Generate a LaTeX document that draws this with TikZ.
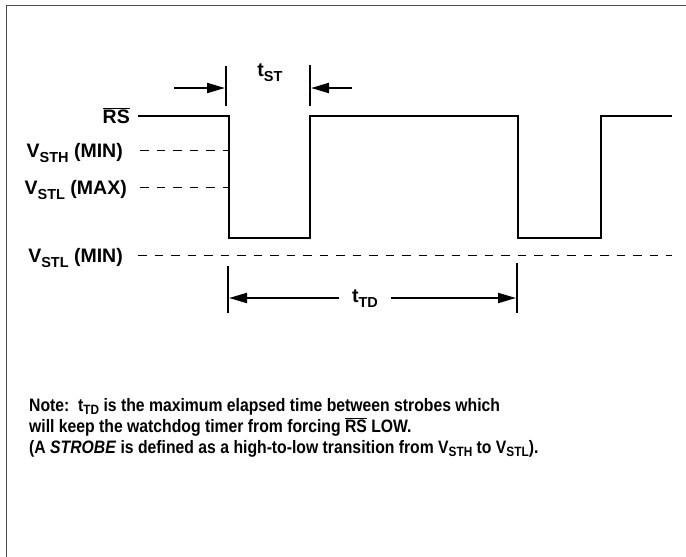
\documentclass[tikz,border=0pt]{standalone}
\usepackage{fontspec}
\setmainfont{Liberation Sans}
\newfontfamily\notefont{Liberation Sans}[FakeStretch=0.875]
\usetikzlibrary{arrows.meta}
\newcommand\dn[1]{\raisebox{-0.26em}{\fontsize{14.5}{14.5}\selectfont #1}}
\newcommand\ndn[1]{\raisebox{-0.22em}{\fontsize{13.5}{13.5}\selectfont #1}}
\newcommand\ovl[1]{$\overline{\hbox{#1}}$}
\begin{document}
\begin{tikzpicture}[x=1pt,y=-1pt,
  sig/.style={line width=2pt, line join=miter},
  thr/.style={line width=0.9pt, dash pattern=on 8.5pt off 8pt},
  tickln/.style={line width=2pt},
  dimarrow/.style={line width=2pt, -{Triangle[length=18pt,width=10pt]}},
  lab/.style={font=\fontsize{19.5}{22}\selectfont\bfseries, inner sep=0pt, anchor=base east},
  tlab/.style={font=\fontsize{19.5}{22}\selectfont\bfseries, inner sep=0pt},
  notetxt/.style={font=\notefont\fontsize{18}{20}\selectfont\bfseries, inner sep=0pt, anchor=base west}]
\useasboundingbox (0,0) rectangle (686,557);
% frame
\draw[line width=1.5pt, draw=black!70] (6.5,557) -- (6.5,5.5) -- (686,5.5);
% signal
\coordinate (h0) at (138,116);
\coordinate (f1) at (229,116);
\coordinate (l1) at (229,238);
\coordinate (r1) at (310,238);
\coordinate (h1) at (310,116);
\coordinate (f2) at (518,116);
\coordinate (l2) at (518,238);
\coordinate (r2) at (601,238);
\coordinate (h2) at (601,116);
\coordinate (h3) at (672,116);
\draw[sig] (h0) -- (f1) -- (l1) -- (r1) -- (h1) -- (f2) -- (l2) -- (r2) -- (h2) -- (h3);
% thresholds
\coordinate (a0) at (140,150); \coordinate (a1) at (229,150);
\coordinate (b0) at (140,187); \coordinate (b1) at (229,187);
\coordinate (c0) at (138,255); \coordinate (c1) at (672,255);
\draw[thr] (a0) -- (a1);
\draw[thr] (b0) -- (b1);
\draw[thr] (c0) -- (c1);
% labels
\node[lab] (rs) at (130,123) {\ovl{RS}};
\node[lab] (vsth) at (123,157) {V\dn{STH} (MIN)};
\node[lab] (vstlmax) at (127,194) {V\dn{STL} (MAX)};
\node[lab] (vstlmin) at (123,262) {V\dn{STL} (MIN)};
% t_ST
\coordinate (st1a) at (226,66); \coordinate (st1b) at (226,106);
\coordinate (st2a) at (310,65); \coordinate (st2b) at (310,106);
\draw[tickln] (st1a) -- (st1b);
\draw[tickln] (st2a) -- (st2b);
\coordinate (sta0) at (174,88); \coordinate (sta1) at (225,88);
\coordinate (stb0) at (352,88); \coordinate (stb1) at (311,88);
\draw[dimarrow] (sta0) -- (sta1);
\draw[dimarrow] (stb0) -- (stb1);
\node[tlab] (tst) at (270,73) {t\dn{ST}};
% t_TD
\coordinate (td1a) at (228,266); \coordinate (td1b) at (228,313);
\coordinate (td2a) at (517,263); \coordinate (td2b) at (517,313);
\draw[tickln] (td1a) -- (td1b);
\draw[tickln] (td2a) -- (td2b);
\node[tlab] (ttd) at (365,299) {t\dn{TD}};
\coordinate (tda1) at (229,298); \coordinate (tdb1) at (516,298);
\coordinate (tda0) at (339,298); \coordinate (tdb0) at (391,298);
\draw[dimarrow] (tda0) -- (tda1);
\draw[dimarrow] (tdb0) -- (tdb1);
% note
\node[notetxt] (n1) at (29,411) {Note:\ \ t\ndn{TD} is the maximum elapsed time between strobes which};
\node[notetxt] (n2) at (29,432) {will keep the watchdog timer from forcing \ovl{RS} LOW.};
\node[notetxt] (n3) at (29,453) {(A \textit{STROBE} is defined as a high-to-low transition from V\ndn{STH} to V\ndn{STL}).};
\end{tikzpicture}
\end{document}
